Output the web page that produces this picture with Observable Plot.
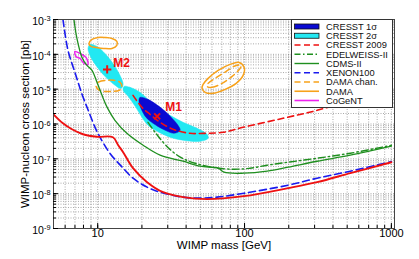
<!DOCTYPE html>
<html><head><meta charset="utf-8">
<script src="https://cdn.jsdelivr.net/npm/d3@7"></script>
<script src="https://cdn.jsdelivr.net/npm/@observablehq/plot@0.6"></script>
<style>
body{margin:0;background:#fff;font-family:"Liberation Sans",Arial,sans-serif;}
#wrap{position:relative;width:419px;height:259px;overflow:hidden;}
#legend{position:absolute;left:0;top:0;}
</style></head><body><div id="wrap"></div>
<script>
// ---------- ticks ----------
const xTickValues = [10, 100, 1000];
const xMinorValues = [6,7,8,9,10,20,30,40,50,60,70,80,90,100,200,300,400,500,600,700,800,900,1000];
const yTickValues = [1e-9, 1e-8, 1e-7, 1e-6, 1e-5, 1e-4, 1e-3];
const yMantissas = [1,2,3,4,5,6,7,8,9];
const yDecades = [1e-9, 1e-8, 1e-7, 1e-6, 1e-5, 1e-4];

// ---------- limit curves (mass GeV, sigma pb) ----------
const redLimitMass  = [5.0, 5.80, 6.68, 7.94, 9.89, 12.7, 13.8, 14.9, 17.4, 21.7, 27.9, 38.1, 55.6, 99, 198, 312, 525, 1000];
const redLimitSigma = [1.90e-6, 1.05e-6, 7.05e-7, 5.07e-7, 4.30e-7, 4.16e-7, 2.45e-7, 1.55e-7, 5.38e-8, 2.14e-8, 1.10e-8, 7.94e-9, 6.95e-9, 8.48e-9, 1.44e-8, 2.14e-8, 3.87e-8, 8.0e-8];

const xenonMass  = [5.80, 6.28, 7.00, 7.82, 8.73, 9.59, 10.37, 12.1, 14.7, 17.4, 21.7, 26.6, 38.1, 49.8, 65.0, 99, 198, 312, 525, 1000];
const xenonSigma = [1e-3, 1.29e-4, 3.03e-5, 7.10e-6, 2.16e-6, 8.03e-7, 4.16e-7, 1.45e-7, 5.74e-8, 2.78e-8, 1.54e-8, 1.10e-8, 7.94e-9, 7.43e-9, 7.94e-9, 1.03e-8, 1.75e-8, 2.78e-8, 4.42e-8, 8.3e-8];

const cdmsMass  = [6.89, 7.22, 7.82, 8.45, 9.14, 9.89, 10.7, 11.6, 13.1, 15.8, 20.4, 26.6, 38.1, 49.8, 66.2, 72.6, 99, 142.6, 198, 312, 525, 1000];
const cdmsSigma = [1e-3, 2.86e-4, 8.15e-5, 4.81e-5, 3.46e-5, 1.57e-5, 6.64e-6, 3.01e-6, 1.28e-6, 5.42e-7, 2.45e-7, 1.27e-7, 8.53e-8, 6.14e-8, 5.38e-8, 4.13e-8, 3.87e-8, 4.42e-8, 5.74e-8, 8.53e-8, 1.27e-7, 2.30e-7];

const edelweissMass  = [22.0, 24.6, 27.9, 32.1, 37.6, 46.1, 60.1, 82.3, 109, 142.6, 198, 312, 525, 1000];
const edelweissSigma = [1.12e-6, 5.78e-7, 2.99e-7, 1.65e-7, 1.04e-7, 7.48e-8, 5.74e-8, 5.03e-8, 5.38e-8, 6.56e-8, 8.0e-8, 1.04e-7, 1.45e-7, 2.45e-7];

const cresst2009Mass  = [17.4, 20.0, 22.7, 26.6, 32.6, 42.5, 55.6, 71.5, 97.8, 183, 312, 525, 1000];
const cresst2009Sigma = [6.64e-6, 3.01e-6, 1.90e-6, 1.12e-6, 7.05e-7, 5.42e-7, 5.42e-7, 5.78e-7, 8.04e-7, 1.46e-6, 2.47e-6, 4.78e-6, 1.13e-5];

// ---------- regions ----------
const cresst1sMass  = [19.4, 22.0, 25.0, 28.8, 32.1, 35.2, 36.4, 33.1, 27.9, 23.8, 21.3, 19.7, 19.1];
const cresst1sSigma = [5.82e-6, 5.10e-6, 3.67e-6, 2.31e-6, 1.46e-6, 9.18e-7, 6.60e-7, 5.42e-7, 7.05e-7, 1.05e-6, 1.56e-6, 2.82e-6, 4.47e-6];
const cresst2sM1Mass  = [15.1, 16.6, 19.4, 22.7, 26.6, 31.1, 38.1, 47.5, 55.6, 56.5, 49.8, 38.1, 31.1, 25.4, 22.0, 20.0, 18.0, 16.1, 14.9];
const cresst2sM1Sigma = [1.20e-5, 1.13e-5, 8.10e-6, 4.47e-6, 2.64e-6, 1.77e-6, 1.12e-6, 7.53e-7, 5.07e-7, 3.89e-7, 3.19e-7, 3.41e-7, 4.16e-7, 6.18e-7, 9.18e-7, 1.56e-6, 3.21e-6, 6.22e-6, 9.25e-6];
const cresst2sM2Mass  = [8.86, 9.89, 11.2, 12.7, 14.2, 14.9, 14.4, 12.9, 11.2, 9.73, 8.86, 8.59];
const cresst2sM2Sigma = [1.92e-4, 1.68e-4, 1.06e-4, 5.48e-5, 2.48e-5, 1.37e-5, 1.05e-5, 1.37e-5, 2.33e-5, 4.81e-5, 9.29e-5, 1.48e-4];

const damaLowMass  = [8.72, 9.15, 10.05, 11.2, 12.5, 13.5, 13.5, 12.5, 11.0, 9.73, 9.00];
const damaLowSigma = [2.05e-4, 2.67e-4, 3.05e-4, 3.05e-4, 2.86e-4, 2.34e-4, 1.80e-4, 1.48e-4, 1.48e-4, 1.58e-4, 1.68e-4];
const damaHighMass  = [51.4, 53.9, 61.1, 73.8, 87.7, 97.8, 99.4, 91.9, 79.7, 66.1, 56.5, 52.2];
const damaHighSigma = [1.05e-5, 8.10e-6, 7.58e-6, 9.87e-6, 1.47e-5, 2.48e-5, 4.21e-5, 5.86e-5, 5.14e-5, 3.46e-5, 2.04e-5, 1.37e-5];
const damaChanLowMass  = [9.73, 10.2, 11.4, 12.9, 14.2, 14.6, 14.0, 12.5, 11.0, 10.05];
const damaChanLowSigma = [1.29e-5, 1.62e-5, 1.79e-5, 1.79e-5, 1.57e-5, 1.20e-5, 9.25e-6, 8.65e-6, 8.65e-6, 9.87e-6];
const damaChanHighMass  = [55.6, 60.1, 70.3, 82.3, 93.3, 94.8, 87.7, 75.0, 63.1, 56.5];
const damaChanHighSigma = [1.20e-5, 1.13e-5, 1.47e-5, 2.33e-5, 3.95e-5, 4.81e-5, 4.81e-5, 3.24e-5, 2.04e-5, 1.47e-5];
const cogentMass  = [7.00, 7.57, 8.32, 8.59, 8.07, 7.57, 7.11];
const cogentSigma = [1.21e-4, 1.06e-4, 8.15e-5, 5.14e-5, 5.48e-5, 7.63e-5, 8.71e-5];

// ---------- best-fit maxima ----------
const maximaNames = ["M1", "M2"];
const maximaMass  = [25.4, 11.6];
const maximaSigma = [1.66e-6, 3.69e-5];

// ---------- legend ----------
const legendLabels = ["CRESST 1σ", "CRESST 2σ", "CRESST 2009", "EDELWEISS-II", "CDMS-II", "XENON100", "DAMA chan.", "DAMA", "CoGeNT"];

// ---------- styles ----------
const RED = "#ee1111", BLUE = "#1a1aee", GREEN = "#1f8f1f", ORANGE = "#f7a21b", MAGENTA = "#ee22ee";
const CYAN_FILL = "#22e8f2", BLUE_FILL = "#0a0ad2";
const legendStyles = [
  {box: BLUE_FILL}, {box: CYAN_FILL},
  {stroke: RED, dash: "6,3.5", w: 1.6},
  {stroke: GREEN, dash: "6,2.5,1.5,2.5", w: 1.4},
  {stroke: GREEN, w: 1.4},
  {stroke: BLUE, dash: "6,3.5", w: 1.6},
  {stroke: ORANGE, dash: "6,3.5", w: 1.5},
  {stroke: ORANGE, w: 1.6},
  {stroke: MAGENTA, w: 1.6}
];

const rows = (m, s) => m.map((v, i) => ({mass: v, sigma: s[i]}));
const yGridValues = yDecades.flatMap(d => yMantissas.map(k => k * d)).concat([1e-3]);
const maxima = maximaNames.map((n, i) => ({name: n, mass: maximaMass[i], sigma: maximaSigma[i]}));

const W = 419, H = 259;
const gridStyle = {stroke: "#707070", strokeOpacity: 0.75, strokeDasharray: "1,1.5", strokeWidth: 0.8};
const XY = {x: "mass", y: "sigma"};
const labelText = {...XY, text: "name", fill: RED, fontWeight: "bold", fontSize: 12, textAnchor: "start"};

const chart = Plot.plot({
  width: W, height: H,
  marginLeft: 53, marginRight: 25, marginTop: 19, marginBottom: 31,
  style: {fontFamily: '"Liberation Sans", Arial, sans-serif', fontSize: "10.5px", color: "#000", background: "#fff"},
  x: {type: "log", domain: [5, 1050]},
  y: {type: "log", domain: [1e-9, 1e-3]},
  marks: [
    Plot.gridX(xMinorValues, gridStyle),
    Plot.gridY(yGridValues, gridStyle),
    // CRESST regions
    Plot.line(rows(cresst2sM1Mass, cresst2sM1Sigma), {...XY, curve: "catmull-rom-closed", fill: CYAN_FILL, stroke: CYAN_FILL, strokeWidth: 0.5}),
    Plot.line(rows(cresst2sM2Mass, cresst2sM2Sigma), {...XY, curve: "catmull-rom-closed", fill: CYAN_FILL, stroke: CYAN_FILL, strokeWidth: 0.5}),
    Plot.line(rows(cresst1sMass, cresst1sSigma), {...XY, curve: "catmull-rom-closed", fill: BLUE_FILL, stroke: BLUE_FILL, strokeWidth: 0.5}),
    // DAMA
    Plot.line(rows(damaLowMass, damaLowSigma), {...XY, curve: "catmull-rom-closed", stroke: ORANGE, strokeWidth: 1.5}),
    Plot.line(rows(damaHighMass, damaHighSigma), {...XY, curve: "catmull-rom-closed", stroke: ORANGE, strokeWidth: 1.5}),
    Plot.line(rows(damaChanLowMass, damaChanLowSigma), {...XY, curve: "catmull-rom-closed", stroke: ORANGE, strokeWidth: 1.5, strokeDasharray: "6,4"}),
    Plot.line(rows(damaChanHighMass, damaChanHighSigma), {...XY, curve: "catmull-rom-closed", stroke: ORANGE, strokeWidth: 1.5, strokeDasharray: "6,4"}),
    // CoGeNT
    Plot.line(rows(cogentMass, cogentSigma), {...XY, curve: "catmull-rom-closed", stroke: MAGENTA, strokeWidth: 1.5}),
    // limits
    Plot.line(rows(cdmsMass, cdmsSigma), {...XY, curve: "catmull-rom", stroke: GREEN, strokeWidth: 1.3, clip: true}),
    Plot.line(rows(edelweissMass, edelweissSigma), {...XY, curve: "catmull-rom", stroke: GREEN, strokeWidth: 1.4, strokeDasharray: "7,3,1.5,3", clip: true}),
    Plot.line(rows(cresst2009Mass, cresst2009Sigma), {...XY, curve: "catmull-rom", stroke: RED, strokeWidth: 1.6, strokeDasharray: "6,4", clip: true}),
    Plot.line(rows(xenonMass, xenonSigma), {...XY, curve: "catmull-rom", stroke: BLUE, strokeWidth: 1.6, strokeDasharray: "7,4", clip: true}),
    Plot.line(rows(redLimitMass, redLimitSigma), {...XY, curve: "catmull-rom", stroke: RED, strokeWidth: 1.9, clip: true}),
    // maxima
    Plot.dot(maxima, {...XY, symbol: d => d.name === "M1" ? "times" : "plus", stroke: RED, strokeWidth: 2, r: 2.8}),
    Plot.text(maxima, {...labelText, filter: d => d.name === "M1", dx: 8, dy: -9}),
    Plot.text(maxima, {...labelText, filter: d => d.name === "M2", dx: 6, dy: -6}),
    Plot.frame({stroke: "#444", strokeWidth: 1}),
    // axes
    Plot.axisX(xMinorValues, {anchor: "bottom", tickSize: -3, tickFormat: () => "", label: null}),
    Plot.axisX(xTickValues, {anchor: "bottom", tickSize: -5, tickFormat: () => "", label: null}),
    Plot.axisX(xTickValues, {anchor: "bottom", tickSize: 0, tickPadding: 1, fontSize: 11, tickFormat: d => String(d),
      label: "WIMP mass [GeV]", labelArrow: "none", labelAnchor: "center", labelOffset: 20}),
    Plot.axisY(yGridValues, {anchor: "left", tickSize: -3, tickFormat: () => "", label: null}),
    Plot.axisY(yTickValues, {anchor: "left", tickSize: -5, tickFormat: () => "", label: null}),
    Plot.axisY(yTickValues, {anchor: "left", tickSize: 0, tickPadding: 3, dy: 2, fontSize: 10.5,
      tickFormat: d => "10^" + Math.round(Math.log10(d)),
      label: "WIMP-nucleon cross section [pb]", labelArrow: "none", labelAnchor: "center", labelOffset: 33})
  ]
});

// superscript exponents on y tick labels
d3.select(chart).selectAll('g[aria-label="y-axis tick label"] text').each(function () {
  const t = d3.select(this);
  const s = t.text();
  if (!s.includes("^")) return;
  const [b, e] = s.split("^");
  t.text(null);
  t.append("tspan").text(b);
  t.append("tspan").attr("dy", "-0.5em").attr("font-size", "0.7em").text(e);
});
d3.select(chart).selectAll('g[aria-label="y-axis label"] text, g[aria-label="x-axis label"] text')
  .attr("font-size", 11.5)
  .each(function () { const t = d3.select(this); t.text(t.text().replace(/\s*[↑→←↓]\s*/g, "")); });

const wrap = document.getElementById("wrap");
wrap.appendChild(chart);

// legend overlay
const lx = 291.5, ly = 19.5, lw = 101, lh = 88, rowH = 9.25;
const leg = d3.select(wrap).append("svg").attr("id", "legend").attr("width", W).attr("height", H)
  .style("font-family", '"Liberation Sans", Arial, sans-serif');
leg.append("rect").attr("x", lx).attr("y", ly).attr("width", lw).attr("height", lh)
  .attr("fill", "#fff").attr("stroke", "#333").attr("stroke-width", 1);
legendLabels.forEach((lab, i) => {
  const st = legendStyles[i];
  const cy = ly + 7 + i * rowH;
  if (st.box) {
    leg.append("rect").attr("x", lx + 3).attr("y", cy - 2.5).attr("width", 24.5).attr("height", 5)
      .attr("fill", st.box).attr("stroke", "#111").attr("stroke-width", 0.8);
  } else {
    leg.append("line").attr("x1", lx + 3).attr("x2", lx + 27.5).attr("y1", cy).attr("y2", cy)
      .attr("stroke", st.stroke).attr("stroke-width", st.w).attr("stroke-dasharray", st.dash || null);
  }
  leg.append("text").attr("x", lx + 34.5).attr("y", cy).attr("dy", "0.35em")
    .attr("font-size", 9.3).attr("fill", "#111").text(lab);
});
</script></body></html>
